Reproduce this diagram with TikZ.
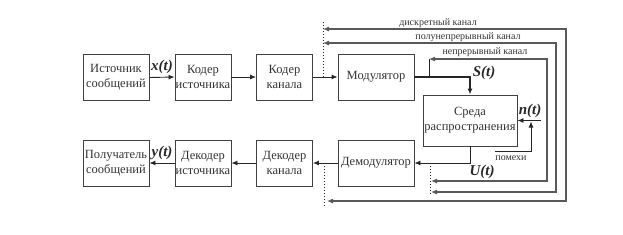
\documentclass[tikz,border=0pt]{standalone}
\usepackage{fontspec}
\setmainfont{Liberation Serif}
\usetikzlibrary{arrows.meta}
\begin{document}
\begin{tikzpicture}[x=1pt,y=-1pt,
  box/.style={draw=black!75, line width=0.9pt, minimum height=46pt, align=center,
    inner sep=0pt, text=black!80, font=\fontsize{12.5}{15}\selectfont},
  sig/.style={draw=black!85, line width=0.9pt, -{Latex[length=6pt,width=5pt]}},
  chan/.style={draw=black!65, line width=1.1pt, {Latex[length=6pt,width=5pt]}-{Latex[length=6pt,width=5pt]}},
  dots/.style={draw=black!85, line width=1pt, dotted},
  mlab/.style={font=\bfseries\itshape\fontsize{15}{15}\selectfont, text=black!85, inner sep=0pt},
  clab/.style={font=\fontsize{10}{10}\selectfont, text=black!80, inner sep=0pt}]
\useasboundingbox (0,0) rectangle (623,234);
% boxes
\node[box, minimum width=66pt] (src) at (116,77.5) {Источник\\сообщений};
\node[box, minimum width=56pt] (csrc) at (203,77) {Кодер\\источника};
\node[box, minimum width=56pt] (cch) at (284.5,77) {Кодер\\канала};
\node[box, minimum width=76pt] (mod) at (376,77) {Модулятор};
\node[box, minimum width=94pt, minimum height=51pt] (med) at (470,120.5) {Среда\\распространения};
\node[box, minimum width=76pt] (dem) at (376,163) {Демодулятор};
\node[box, minimum width=56pt] (dch) at (284.5,163) {Декодер\\канала};
\node[box, minimum width=56pt] (dsrc) at (203,163) {Декодер\\источника};
\node[box, minimum width=66pt] (rcv) at (116,163) {Получатель\\сообщений};
% signal path
\draw[sig] (src.east) -- (csrc.west);
\draw[sig] (csrc.east) -- (cch.west);
\draw[sig] (cch.east) -- (mod.west);
\draw[sig, line width=1.6pt] (mod.east) -| (med.north);
\draw[sig] (med.south) |- (dem.east);
\draw[sig] (dem.west) -- (dch.east);
\draw[sig] (dch.west) -- (dsrc.east);
\draw[sig] (dsrc.west) -- (rcv.east);
% dotted separators
\coordinate (dA1) at (323,22);
\coordinate (dA2) at (323,77);
\coordinate (dB1) at (324,163);
\coordinate (dB2) at (324,206);
\coordinate (dC1) at (430,163);
\coordinate (dC2) at (430,195);
\draw[dots] (dA1) -- (dA2);
\draw[dots] (dB1) -- (dB2);
\draw[dots] (dC1) -- (dC2);
% channels
\coordinate (kt) at (429,59);
\coordinate (kb) at (429,76);
\draw[draw=black!85, line width=0.9pt] (kt) -- (kb);
\draw[chan] (323,29) -- (566,29) -- (566,201) -- (327,201);
\draw[chan] (323,43) -- (556,43) -- (556,192) -- (431,192);
\draw[chan] (kt) -- (547,59) -- (547,181) -- (431,181);
\node[clab] (l1) at (438,23) {дискретный канал};
\node[clab] (l2) at (468,37) {полунепрерывный канал};
\node[clab] (l3) at (485,52) {непрерывный канал};
% noise
\coordinate (nz) at (495,151);
\coordinate (nin) at (541,120.5);
\draw[sig] (nz) -- (531,151) -- (531,121.5);
\draw[sig] (nin) -- (med.east);
\node[clab] (pm) at (511,158) {помехи};
% math labels
\node[mlab] (xt) at (162,67) {x(t)};
\node[mlab] (yt) at (162,153) {y(t)};
\node[mlab] (st) at (484,73) {S(t)};
\node[mlab] (ntl) at (530,111) {n(t)};
\node[mlab] (ut) at (482,172) {U(t)};
\end{tikzpicture}
\end{document}
